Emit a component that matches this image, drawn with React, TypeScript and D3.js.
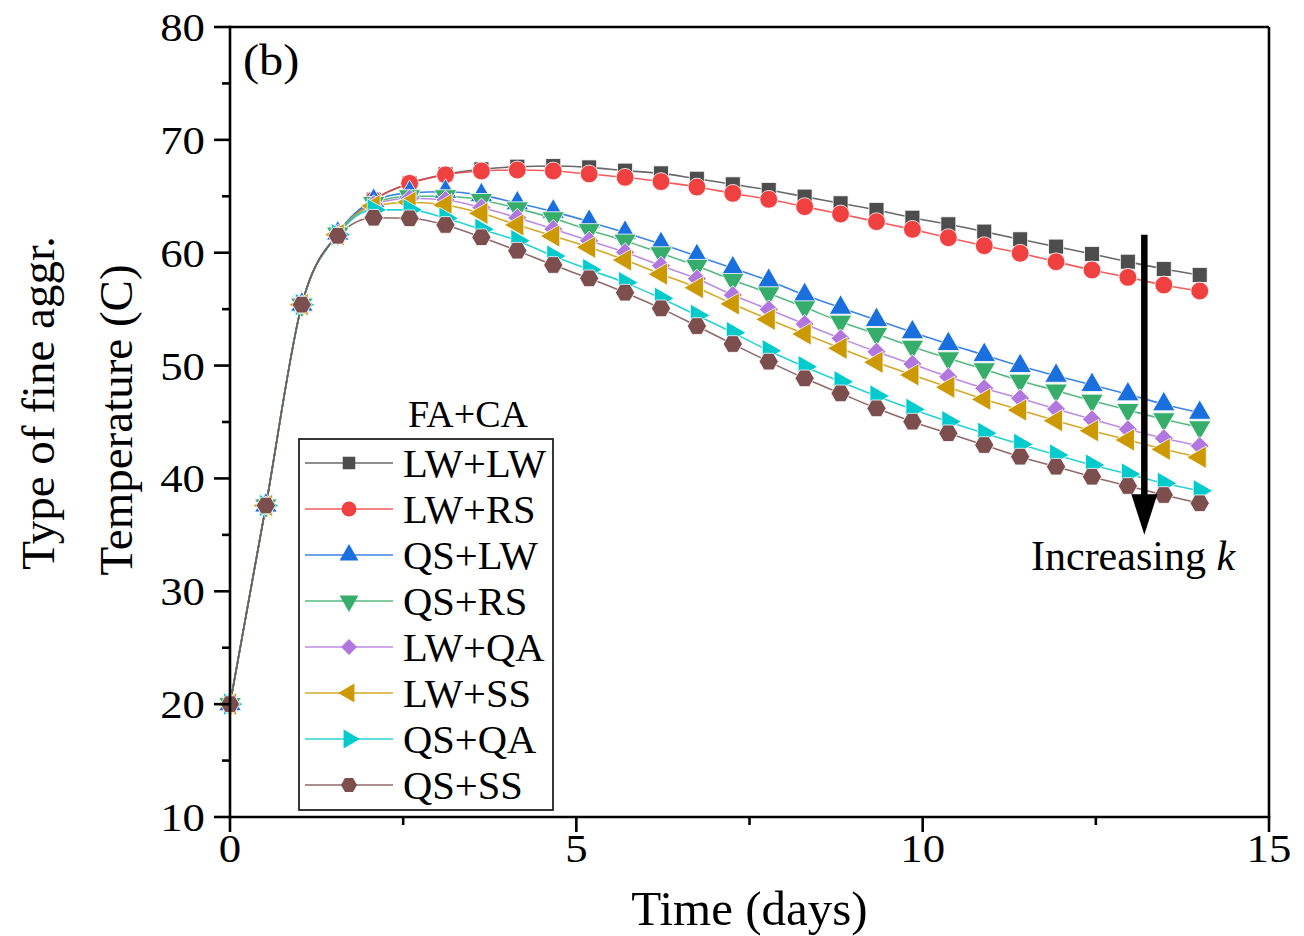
import React from "react";
import * as d3 from "d3";

const seriesNames = ["LW+LW", "LW+RS", "QS+LW", "QS+RS", "LW+QA", "LW+SS", "QS+QA", "QS+SS"];
const seriesColors = ["#4d4d4d", "#f14040", "#1a6fdf", "#37ad6b", "#b177de", "#cc9900", "#00cbcc", "#7d4e4e"];
const seriesSymbols = ["square", "circle", "triUp", "triDown", "diamond", "triLeft", "triRight", "hexagon"];

const timeDays = d3.range(28).map((i) => (i * 14) / 27);

const lwLw = [20.0, 37.6, 55.4, 61.7, 64.7, 66.15, 66.95, 67.39, 67.62, 67.68, 67.56, 67.27, 67.03, 66.55, 66.06, 65.56, 64.97, 64.38, 63.79, 63.1, 62.52, 61.87, 61.19, 60.54, 59.89, 59.2, 58.56, 58.03];
const lwRs = [20.0, 37.6, 55.4, 61.7, 64.67, 66.15, 66.9, 67.24, 67.33, 67.24, 66.98, 66.68, 66.3, 65.82, 65.26, 64.73, 64.08, 63.43, 62.75, 62.07, 61.33, 60.62, 59.95, 59.2, 58.47, 57.82, 57.14, 56.61];
const qsLw = [20.0, 37.6, 55.4, 61.7, 64.6, 65.3, 65.4, 65.1, 64.38, 63.64, 62.75, 61.77, 60.77, 59.7, 58.62, 57.52, 56.25, 55.13, 54.04, 52.95, 51.91, 50.94, 49.96, 49.1, 48.28, 47.45, 46.57, 45.82];
const qsRs = [20.0, 37.6, 55.4, 61.7, 64.4, 65.0, 65.0, 64.67, 63.93, 63.05, 62.0, 61.07, 59.95, 58.83, 57.58, 56.4, 55.16, 53.89, 52.8, 51.67, 50.64, 49.67, 48.66, 47.78, 46.89, 46.06, 45.24, 44.53];
const lwQa = [20.0, 37.6, 55.4, 61.7, 64.3, 64.8, 64.67, 64.0, 63.1, 62.1, 61.07, 60.04, 58.85, 57.7, 56.25, 54.98, 53.68, 52.41, 51.23, 50.14, 49.01, 47.99, 47.1, 46.15, 45.24, 44.35, 43.56, 42.88];
const lwSs = [20.0, 37.6, 55.4, 61.6, 64.15, 64.47, 64.23, 63.49, 62.46, 61.48, 60.48, 59.35, 58.1, 56.9, 55.46, 54.1, 52.8, 51.53, 50.29, 49.17, 48.08, 47.01, 46.06, 45.12, 44.23, 43.41, 42.58, 41.87];
const qsQa = [20.0, 37.6, 55.4, 61.6, 63.8, 63.8, 63.05, 62.07, 61.07, 59.7, 58.5, 57.35, 55.96, 54.45, 52.92, 51.32, 49.9, 48.57, 47.3, 46.12, 45.03, 44.0, 43.02, 42.08, 41.19, 40.39, 39.57, 38.91];
const qsSs = [20.0, 37.6, 55.4, 61.5, 63.1, 63.05, 62.46, 61.37, 60.18, 58.91, 57.73, 56.46, 55.07, 53.5, 51.91, 50.35, 48.87, 47.54, 46.21, 45.03, 44.0, 42.96, 41.93, 41.04, 40.15, 39.33, 38.53, 37.8];

const seriesValues = [lwLw, lwRs, qsLw, qsRs, lwQa, lwSs, qsQa, qsSs];

const xTicks = [0, 5, 10, 15];
const xMinorTicks = [2.5, 7.5, 12.5];
const yTicks = [10, 20, 30, 40, 50, 60, 70, 80];
const yMinorTicks = [15, 25, 35, 45, 55, 65, 75];

const W = 1304;
const H = 936;
const FONT = "'Liberation Serif', 'Times New Roman', serif";

const hexagonSymbol = {
  draw(context: any, size: number) {
    const r = Math.sqrt((2 * size) / (3 * Math.sqrt(3)));
    for (let k = 0; k < 6; k++) {
      const a = (Math.PI / 3) * k;
      const px = r * Math.cos(a);
      const py = r * Math.sin(a);
      if (k === 0) context.moveTo(px, py);
      else context.lineTo(px, py);
    }
    context.closePath();
  },
};

function symbolPath(kind: string, size: number): { d: string; rot: number } {
  switch (kind) {
    case "square":
      return { d: d3.symbol(d3.symbolSquare, size)() as string, rot: 0 };
    case "circle":
      return { d: d3.symbol(d3.symbolCircle, size)() as string, rot: 0 };
    case "triUp":
      return { d: d3.symbol(d3.symbolTriangle, size)() as string, rot: 0 };
    case "triDown":
      return { d: d3.symbol(d3.symbolTriangle, size)() as string, rot: 180 };
    case "triLeft":
      return { d: d3.symbol(d3.symbolTriangle, size)() as string, rot: -90 };
    case "triRight":
      return { d: d3.symbol(d3.symbolTriangle, size)() as string, rot: 90 };
    case "diamond":
      return { d: d3.symbol(d3.symbolSquare, size)() as string, rot: 45 };
    default:
      return { d: d3.symbol(hexagonSymbol as any, size)() as string, rot: 0 };
  }
}

const markerSizes: Record<string, number> = {
  square: 225,
  circle: 250,
  triUp: 220,
  triDown: 220,
  triLeft: 220,
  triRight: 220,
  diamond: 180,
  hexagon: 240,
};

export default function App() {
  const x = d3.scaleLinear().domain([0, 15]).range([230, 1269]);
  const y = d3.scaleLinear().domain([10, 80]).range([817, 27]);
  const line = d3
    .line<number>()
    .x((_, i) => x(timeDays[i]))
    .y((v) => y(v))
    .curve(d3.curveMonotoneX);

  const x0 = x(0);
  const x1 = x(15);
  const y0 = y(10);
  const y1 = y(80);

  // legend geometry
  const legX = 299;
  const legY = 439;
  const legW = 254;
  const legH = 371;
  const rowStep = 46;
  const row0 = 463;

  const arrowX = x(13.2);

  return (
    <svg
      width={W}
      height={H}
      viewBox={`0 0 ${W} ${H}`}
      style={{ position: "absolute", left: 0, top: 0, background: "#fff" }}
      fontFamily={FONT}
    >
      <rect x={0} y={0} width={W} height={H} fill="#fff" />

      {/* series lines */}
      {seriesValues.map((vals, si) => (
        <path
          key={"l" + si}
          d={line(vals) as string}
          fill="none"
          stroke={seriesColors[si]}
          strokeOpacity={0.85}
          strokeWidth={1.6}
        />
      ))}
      {/* markers */}
      {seriesValues.map((vals, si) => {
        const kind = seriesSymbols[si];
        const s = symbolPath(kind, markerSizes[kind]);
        return (
          <g key={"m" + si}>
            {vals.map((v, i) => (
              <path
                key={i}
                d={s.d}
                transform={`translate(${x(timeDays[i])},${y(v)}) rotate(${s.rot})`}
                fill={seriesColors[si]}
                stroke="#fff"
                strokeWidth={0.8}
              />
            ))}
          </g>
        );
      })}

      {/* frame */}
      <line x1={x0} y1={y1} x2={x1} y2={y1} stroke="#000" strokeWidth={2.6} />
      <line x1={x1} y1={y1} x2={x1} y2={y0} stroke="#000" strokeWidth={2.6} />
      <line x1={x0} y1={y0} x2={x1 + 1.3} y2={y0} stroke="#000" strokeWidth={2.6} />
      <line x1={x0} y1={y1 - 1.3} x2={x0} y2={y0 + 1.3} stroke="#000" strokeWidth={2.6} />

      {/* y ticks */}
      {yTicks.map((t) => (
        <g key={"yt" + t}>
          <line x1={x0 - 16} x2={x0} y1={y(t)} y2={y(t)} stroke="#000" strokeWidth={2.6} />
          <text
            transform={`translate(${x0 - 25},${y(t)}) scale(1.12,1)`}
            dy="0.35em"
            textAnchor="end"
            fontSize={40}
            fill="#000"
          >
            {t}
          </text>
        </g>
      ))}
      {yMinorTicks.map((t) => (
        <line key={"ym" + t} x1={x0 - 8} x2={x0} y1={y(t)} y2={y(t)} stroke="#000" strokeWidth={2.6} />
      ))}

      {/* x ticks */}
      {xTicks.map((t) => (
        <g key={"xt" + t}>
          <line x1={x(t)} x2={x(t)} y1={y0} y2={y0 + 15} stroke="#000" strokeWidth={2.6} />
          <text
            transform={`translate(${x(t)},${y0 + 45}) scale(1.12,1)`}
            textAnchor="middle"
            fontSize={40}
            fill="#000"
          >
            {t}
          </text>
        </g>
      ))}
      {xMinorTicks.map((t) => (
        <line key={"xm" + t} x1={x(t)} x2={x(t)} y1={y0} y2={y0 + 8} stroke="#000" strokeWidth={2.6} />
      ))}

      {/* axis titles */}
      <text x={(x0 + x1) / 2} y={925} textAnchor="middle" fontSize={49} fill="#000">
        Time (days)
      </text>
      <text transform={`translate(132,420) rotate(-90)`} textAnchor="middle" fontSize={47} fill="#000">
        Temperature (C)
      </text>
      <text transform={`translate(54,403) rotate(-90)`} textAnchor="middle" fontSize={47} fill="#000">
        Type of fine aggr.
      </text>

      {/* panel label */}
      <text transform="translate(243,75) scale(1.1,1)" fontSize={44} fill="#000">
        (b)
      </text>

      {/* arrow */}
      <line x1={arrowX} x2={arrowX} y1={y(61.6)} y2={y(38.2)} stroke="#000" strokeWidth={6.5} />
      <path
        d={`M${arrowX - 13},${y(38.6)} L${arrowX + 13},${y(38.6)} L${arrowX},${y(35.0)} Z`}
        fill="#000"
      />
      <text x={1031} y={570} fontSize={42} fill="#000">
        Increasing <tspan fontStyle="italic">k</tspan>
      </text>

      {/* legend */}
      <text x={468} y={427} textAnchor="middle" fontSize={38} fill="#000">
        FA+CA
      </text>
      <rect x={legX} y={legY} width={legW} height={legH} fill="#fff" stroke="#222" strokeWidth={1.8} />
      {seriesNames.map((name, si) => {
        const cy = row0 + si * rowStep;
        const kind = seriesSymbols[si];
        const s = symbolPath(kind, markerSizes[kind] * 0.7);
        return (
          <g key={"lg" + si}>
            <line x1={305} x2={393} y1={cy} y2={cy} stroke={seriesColors[si]} strokeOpacity={0.85} strokeWidth={1.6} />
            <path d={s.d} transform={`translate(349,${cy}) rotate(${s.rot})`} fill={seriesColors[si]} />
            <text transform={`translate(403,${cy + 14}) scale(1.04,1)`} fontSize={39} fill="#000">
              {name}
            </text>
          </g>
        );
      })}
    </svg>
  );
}
